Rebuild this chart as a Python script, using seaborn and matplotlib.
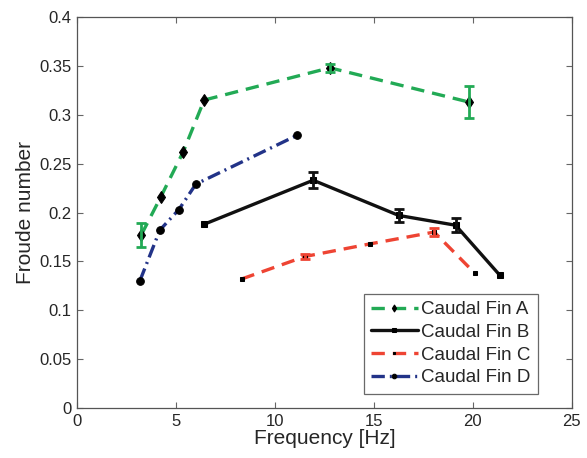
import numpy as np
import pandas as pd
import matplotlib
matplotlib.use("Agg")
import matplotlib.pyplot as plt
import seaborn as sns

# Data
freq_a = [3.25, 4.24, 5.37, 6.43, 12.78, 19.8]
fr_a = [0.177, 0.216, 0.262, 0.315, 0.348, 0.313]
err_a = [0.012, 0.0, 0.0, 0.0, 0.004, 0.016]

freq_b = [6.43, 11.94, 16.26, 19.13, 21.36]
fr_b = [0.188, 0.233, 0.197, 0.187, 0.136]
err_b = [0.0, 0.008, 0.007, 0.007, 0.0]

freq_c = [8.32, 11.52, 14.83, 18.05, 20.1]
fr_c = [0.132, 0.155, 0.168, 0.180, 0.138]
err_c = [0.0, 0.003, 0.0, 0.004, 0.0]

freq_d = [3.18, 4.19, 5.15, 6.01, 11.13]
fr_d = [0.130, 0.182, 0.203, 0.229, 0.279]
err_d = [0.0, 0.0, 0.0, 0.0, 0.0]

labels = ["Caudal Fin A", "Caudal Fin B", "Caudal Fin C", "Caudal Fin D"]
x_ticks = [0, 5, 10, 15, 20, 25]
y_ticks = [0, 0.05, 0.1, 0.15, 0.2, 0.25, 0.3, 0.35, 0.4]
y_ticklabels = ["0", "0.05", "0.1", "0.15", "0.2", "0.25", "0.3", "0.35", "0.4"]

sns.set_style("ticks")
plt.rcParams["font.family"] = ["Liberation Sans", "DejaVu Sans"]

fig = plt.figure(figsize=(5.87, 4.58), dpi=100)
ax = fig.add_axes([0.131, 0.109, 0.843, 0.854])

series = [
    (freq_a, fr_a, err_a, "#22aa55", (0, (4, 2.4)), "d", 6.0),
    (freq_b, fr_b, err_b, "#111111", "-", "s", 4.5),
    (freq_c, fr_c, err_c, "#ee4433", (0, (4, 2.4)), "s", 3.2),
    (freq_d, fr_d, err_d, "#223388", (0, (4, 1.5, 0.6, 1.5)), "o", 5.5),
]

for (fx, fy, fe, col, ls, mk, ms), lab in zip(series, labels):
    df = pd.DataFrame({"Frequency": fx, "Froude": fy})
    sns.lineplot(data=df, x="Frequency", y="Froude", ax=ax, color=col,
                 linestyle=ls, linewidth=2.4, marker=mk, markersize=ms,
                 markerfacecolor="black", markeredgecolor="black",
                 label=lab, sort=False)
    sel = [i for i, e in enumerate(fe) if e > 0]
    if sel:
        ax.errorbar([fx[i] for i in sel], [fy[i] for i in sel],
                    yerr=[fe[i] for i in sel], fmt="none", ecolor=col,
                    elinewidth=2.0, capsize=3.5, capthick=2.0, zorder=3)

ax.set_xlim(0, 25)
ax.set_ylim(0, 0.4)
ax.set_xticks(x_ticks)
ax.set_xticklabels([str(t) for t in x_ticks])
ax.set_yticks(y_ticks)
ax.set_yticklabels(y_ticklabels)
ax.tick_params(direction="in", length=4, width=0.8, color="#666666",
               labelsize=12, top=True, right=True, pad=4)
for s in ax.spines.values():
    s.set_color("#555555")
    s.set_linewidth(0.9)
ax.set_xlabel("Frequency [Hz]", fontsize=15, labelpad=0)
ax.set_ylabel("Froude number", fontsize=15, labelpad=3)

leg = ax.legend(loc="lower right", bbox_to_anchor=(0.931, 0.036),
                fontsize=13.5, frameon=True, fancybox=False, handlelength=2.5,
                handletextpad=0.15, borderpad=0.4, labelspacing=0.3,
                borderaxespad=0, markerscale=0.6)
leg.get_frame().set_edgecolor("#444444")
leg.get_frame().set_linewidth(0.9)

fig.savefig("out.png", dpi=100)
